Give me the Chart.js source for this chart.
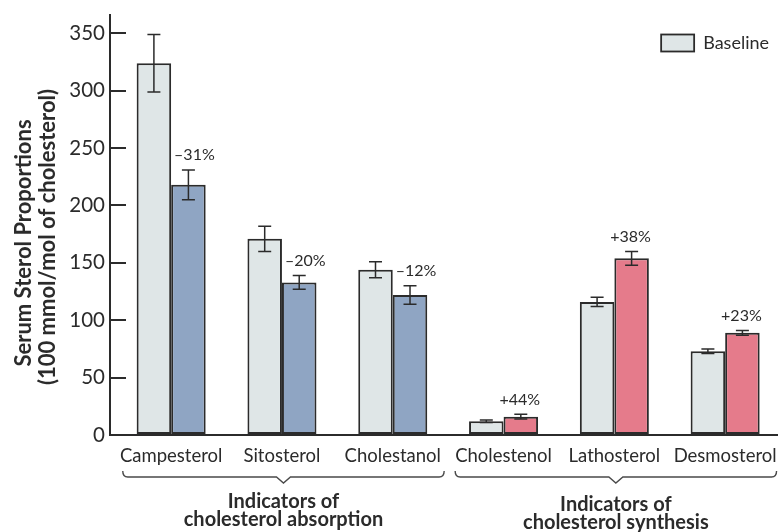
<!DOCTYPE html>
<html>
<head>
<meta charset="utf-8">
<script src="https://cdn.jsdelivr.net/npm/chart.js@4.4.1/dist/chart.umd.min.js"></script>
<style>
  html, body { margin: 0; padding: 0; background: #fff; }
  #wrap { width: 778px; height: 532px; position: relative; }
</style>
</head>
<body>
<div id="wrap"><canvas id="c"></canvas></div>
<script>
// Serum sterol proportions (100 mmol/mol of cholesterol), baseline vs. after treatment
const categories   = ['Campesterol', 'Sitosterol', 'Cholestanol', 'Cholestenol', 'Lathosterol', 'Desmosterol'];
const baseline     = [324, 171, 144, 12, 116, 73];
const baselineErr  = [25, 11, 7, 1, 4, 2];
const treatment    = [218, 133, 122, 16, 154, 89];
const treatmentErr = [13, 6, 8, 2, 6, 2];
const changeLabels = ['\u201331%', '\u201320%', '\u201312%', '+44%', '+38%', '+23%'];
const yTicks       = [0, 50, 100, 150, 200, 250, 300, 350];
const groupTitles  = [['Indicators of', 'cholesterol absorption'], ['Indicators of', 'cholesterol synthesis']];
const groupMembers = [[0, 1, 2], [3, 4, 5]];
const yTitleLines  = ['Serum Sterol Proportions', '(100 mmol/mol of cholesterol)'];

const FONT = "Lato, 'Open Sans', sans-serif";
const INK = '#2b2b2b';
const BASE_FILL = '#dfe6e7';
const GROUP_FILLS = ['#8fa5c3', '#e57b8b'];

const groupOf = i => groupMembers.findIndex(m => m.includes(i));
const treatmentFills = categories.map((_, i) => GROUP_FILLS[groupOf(i)]);

// keep the plot area flush with the canvas edges
const noEdgePadding = s => { s.paddingLeft = s.paddingRight = s.paddingTop = s.paddingBottom = 0; };

// error bars and percent-change labels
const errorBars = {
  id: 'errorBars',
  afterDatasetsDraw(chart) {
    const { ctx } = chart;
    const y = chart.scales.y;
    const sets = [[baseline, baselineErr], [treatment, treatmentErr]];
    ctx.save();
    ctx.strokeStyle = INK;
    ctx.lineWidth = 1.5;
    sets.forEach(([vals, errs], d) => {
      chart.getDatasetMeta(d).data.forEach((bar, i) => {
        const top = y.getPixelForValue(vals[i] + errs[i]);
        const bot = y.getPixelForValue(vals[i] - errs[i]);
        const cap = 6.5;
        ctx.beginPath();
        ctx.moveTo(bar.x, top); ctx.lineTo(bar.x, bot);
        ctx.moveTo(bar.x - cap, top); ctx.lineTo(bar.x + cap, top);
        ctx.moveTo(bar.x - cap, bot); ctx.lineTo(bar.x + cap, bot);
        ctx.stroke();
        if (d === 1) {
          const label = changeLabels[i];
          const dx = label.startsWith('+') ? -1 : 6;
          ctx.fillStyle = INK;
          ctx.font = `16px ${FONT}`;
          ctx.textAlign = 'center';
          ctx.textBaseline = 'middle';
          ctx.fillText(label, bar.x + dx, top - 15);
        }
      });
    });
    ctx.restore();
  }
};

// braces and titles grouping the categories under the x axis
const groupBraces = {
  id: 'groupBraces',
  afterDraw(chart) {
    const { ctx } = chart;
    const x = chart.scales.x;
    ctx.save();
    ctx.strokeStyle = '#4a4a4a';
    ctx.lineWidth = 1.4;
    groupMembers.forEach((members, g) => {
      const x0 = x.getPixelForValue(members[0] - 0.5) + 7;
      const x1 = x.getPixelForValue(members[members.length - 1] + 0.5) - 4;
      const mid = (x0 + x1) / 2;
      const yEnd = 471, yLine = 477, yTip = 483;
      ctx.beginPath();
      ctx.moveTo(x0, yEnd);
      ctx.quadraticCurveTo(x0, yLine, x0 + 5, yLine);
      ctx.lineTo(mid - 7, yLine);
      ctx.lineTo(mid, yTip);
      ctx.lineTo(mid + 7, yLine);
      ctx.lineTo(x1 - 5, yLine);
      ctx.quadraticCurveTo(x1, yLine, x1, yEnd);
      ctx.stroke();

      ctx.fillStyle = INK;
      ctx.font = `bold 20px ${FONT}`;
      ctx.textAlign = 'center';
      ctx.textBaseline = 'middle';
      const base = g === 0 ? 502 : 505;
      groupTitles[g].forEach((line, k) => ctx.fillText(line, mid, base + k * 18));
    });
    ctx.restore();
  }
};

// two-line rotated y-axis title
const yTitle = {
  id: 'yTitle',
  afterDraw(chart) {
    const { ctx } = chart;
    const centers = [[24, 243], [48, 237]];
    ctx.save();
    ctx.fillStyle = INK;
    ctx.font = `bold 22px ${FONT}`;
    ctx.textAlign = 'center';
    ctx.textBaseline = 'middle';
    yTitleLines.forEach((line, k) => {
      ctx.save();
      ctx.translate(centers[k][0], centers[k][1]);
      ctx.rotate(-Math.PI / 2);
      ctx.fillText(line, 0, 0);
      ctx.restore();
    });
    ctx.restore();
  }
};

// legend entry for the baseline series in the top-right corner
const cornerLegend = {
  id: 'cornerLegend',
  afterDraw(chart) {
    const { ctx, chartArea } = chart;
    const ds = chart.data.datasets[0];
    ctx.save();
    ctx.font = `18px ${FONT}`;
    const tw = ctx.measureText(ds.label).width;
    const textX = chartArea.right - 9 - tw;
    const cy = 43;
    const bw = 33, bh = 17;
    const bx = textX - 9 - bw;
    ctx.fillStyle = ds.backgroundColor;
    ctx.fillRect(bx, cy - bh / 2, bw, bh);
    ctx.strokeStyle = INK;
    ctx.lineWidth = 1.8;
    ctx.strokeRect(bx, cy - bh / 2, bw, bh);
    ctx.fillStyle = INK;
    ctx.textAlign = 'left';
    ctx.textBaseline = 'middle';
    ctx.fillText(ds.label, textX, cy);
    ctx.restore();
  }
};

new Chart(document.getElementById('c'), {
  type: 'bar',
  data: {
    datasets: [
      {
        label: 'Baseline',
        data: categories.map((_, i) => ({ x: i, y: baseline[i] })),
        backgroundColor: BASE_FILL,
        borderColor: INK,
        borderWidth: 2,
        borderSkipped: false
      },
      {
        label: 'Treatment',
        data: categories.map((_, i) => ({ x: i, y: treatment[i] })),
        backgroundColor: treatmentFills,
        borderColor: INK,
        borderWidth: 2,
        borderSkipped: false
      }
    ]
  },
  options: {
    responsive: true,
    maintainAspectRatio: false,
    animation: false,
    devicePixelRatio: 1,
    categoryPercentage: 0.623,
    barPercentage: 1,
    layout: { padding: { top: 15, right: 0, bottom: 0, left: 0 } },
    plugins: { legend: { display: false }, tooltip: { enabled: false } },
    scales: {
      x: {
        type: 'linear',
        offset: false,
        min: -0.552,
        max: 5.477,
        grid: { display: false, drawTicks: false, offset: false },
        border: { display: true, color: INK, width: 2 },
        afterBuildTicks: s => { s.ticks = categories.map((_, i) => ({ value: i })); },
        afterFit: s => { s.height = 97; noEdgePadding(s); },
        ticks: {
          autoSkip: false,
          maxRotation: 0,
          padding: 10,
          color: INK,
          font: { family: FONT, size: 18.5 },
          callback: v => categories[v]
        }
      },
      y: {
        min: 0,
        max: 366,
        afterBuildTicks: s => { s.ticks = yTicks.map(v => ({ value: v })); },
        afterFit: s => { s.width = 110; noEdgePadding(s); },
        border: { display: true, color: INK, width: 2 },
        grid: { drawOnChartArea: false, drawTicks: true, tickLength: -16, color: INK, lineWidth: 2 },
        ticks: { padding: 21, color: INK, font: { family: FONT, size: 20.5 } }
      }
    }
  },
  plugins: [errorBars, groupBraces, yTitle, cornerLegend]
});
</script>
</body>
</html>
